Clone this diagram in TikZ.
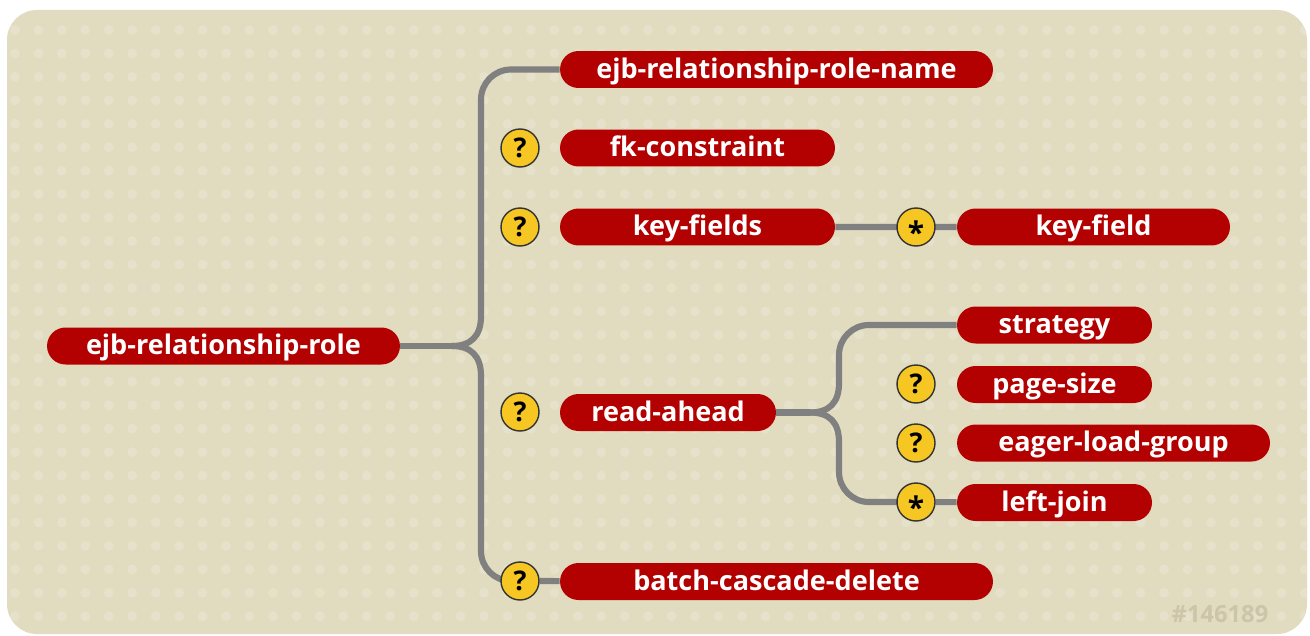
\documentclass[tikz,border=0pt]{standalone}
\usepackage{fontspec}
\setmainfont{Open Sans}
\usetikzlibrary{positioning, backgrounds, shapes.misc}

\definecolor{paper}{HTML}{E1DBBF}
\definecolor{paperdot}{HTML}{E6E1CA}
\definecolor{pillred}{HTML}{B30000}
\definecolor{wiregray}{HTML}{808080}
\definecolor{badgeyellow}{HTML}{F6C623}
\definecolor{stampgray}{HTML}{CCC5AA}

\newcommand{\manymark}{\smash{\raisebox{-0.62em}{\fontsize{17}{17}\selectfont *}}}

\begin{document}
\begin{tikzpicture}[
    x=0.02cm, y=-0.02cm,
    font=\fontsize{15.4}{17}\selectfont\bfseries,
    elem/.style={
        rounded rectangle, fill=pillred, text=white, inner sep=0pt,
        text height=12pt, text depth=2pt,
        minimum height=0.74cm, minimum width=#1
    },
    elem/.default=3.9cm,
    badge/.style={
        circle, draw=black!80, line width=0.8pt, fill=badgeyellow,
        inner sep=0pt, minimum size=0.76cm, text=black
    },
    wire/.style={draw=wiregray, line width=3.5pt},
    stamp/.style={text=stampgray, font=\fontsize{13.5}{15}\selectfont\bfseries}
]
\useasboundingbox (0,0) rectangle (1310,635);

% Paper with its dot grid
\begin{scope}[on background layer]
\fill[paper, rounded corners=0.6cm] (7,10) rectangle (1307,634);
\begin{scope}
\clip[rounded corners=0.6cm] (7,10) rectangle (1307,634);
\foreach \i in {0,...,55}
    \foreach \j in {0,...,25}
        \fill[paperdot] (15+23.45*\i, 30+23.45*\j) circle[radius=0.1cm];
\end{scope}
\end{scope}

% Root element and its children
\node[elem=7.06cm] (role) at (223.5,346) {ejb-relationship-role};
\node[elem=8.66cm] (rolename) at (776.5,69.5) {ejb-relationship-role-name};
\node[elem=5.5cm] (fk) at (697.5,148) {fk-constraint};
\node[elem=5.5cm] (keyfields) at (697.5,227) {key-fields};
\node[elem=4.32cm] (readahead) at (668,412.5) {read-ahead};
\node[elem=8.66cm] (batch) at (776.5,581.5) {batch-cascade-delete};

% Grandchildren
\node[elem=5.46cm] (keyfield) at (1093.5,227) {key-field};
\node[elem=3.9cm] (strategy) at (1054.5,325) {strategy};
\node[elem=3.9cm] (pagesize) at (1054.5,384.5) {page-size};
\node[elem=6.26cm] (eager) at (1113.5,443) {eager-load-group};
\node[elem=3.9cm] (leftjoin) at (1054.5,502.5) {left-join};

% Occurrence badges
\node[badge] (fkopt) at (520,148) {?};
\node[badge] (keyfieldsopt) at (520,227) {?};
\node[badge] (readaheadopt) at (520,412) {?};
\node[badge] (batchopt) at (520,581) {?};
\node[badge] (keyfieldmany) at (916,227) {\manymark};
\node[badge] (pagesizeopt) at (916,384) {?};
\node[badge] (eageropt) at (916,443) {?};
\node[badge] (leftjoinmany) at (916,502) {\manymark};

\node[stamp] (stampid) at (1220,614) {\#146189};

% Connectors stay behind the elements
\begin{scope}[on background layer]
\coordinate (rolefork) at (452,346);
\coordinate (roletop) at (481,316);
\coordinate (rolebottom) at (481,376);
\draw[wire] (role.east) -- (rolefork);
\draw[wire] (rolefork) .. controls (471,346) and (481,336) .. (roletop);
\draw[wire] (rolefork) .. controls (471,346) and (481,356) .. (rolebottom);
\draw[wire, rounded corners=0.6cm] (roletop) |- (rolename.west);
\draw[wire, rounded corners=0.6cm] (rolebottom) |- (batchopt.center);
\draw[wire] (batchopt) -- (batch);

\draw[wire] (keyfields) -- (keyfield);

\coordinate (aheadfork) at (810,412.5);
\coordinate (aheadtop) at (839,383);
\coordinate (aheadbottom) at (839,442);
\draw[wire] (readahead.east) -- (aheadfork);
\draw[wire] (aheadfork) .. controls (829,412.5) and (839,403) .. (aheadtop);
\draw[wire] (aheadfork) .. controls (829,412.5) and (839,422) .. (aheadbottom);
\draw[wire, rounded corners=0.6cm] (aheadtop) |- (strategy.west);
\draw[wire, rounded corners=0.6cm] (aheadbottom) |- (leftjoinmany.center);
\draw[wire] (leftjoinmany) -- (leftjoin);
\end{scope}

\end{tikzpicture}
\end{document}
